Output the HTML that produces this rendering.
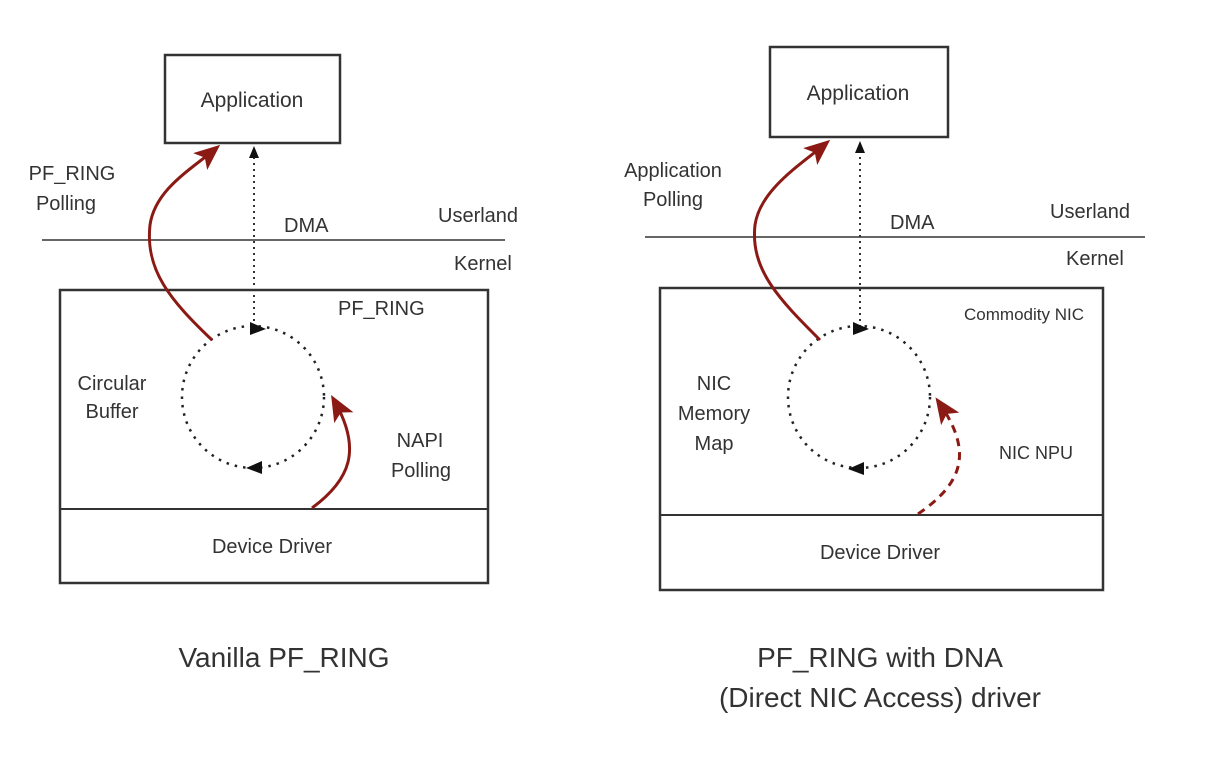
<!DOCTYPE html>
<html><head><style>
body{margin:0;background:#fff;}
svg text{font-family:"Liberation Sans",sans-serif;fill:#333;}
</style></head><body>
<svg width="1211" height="770" viewBox="0 0 1211 770" xmlns="http://www.w3.org/2000/svg">
<defs>
<marker id="bh" markerWidth="12" markerHeight="12" refX="6" refY="6" orient="auto" markerUnits="userSpaceOnUse" viewBox="0 0 12 12"><path d="M0,1 L12,6 L0,11 z" fill="#111"/></marker>
<marker id="rhl" markerWidth="26" markerHeight="26" refX="18" refY="13" orient="auto" markerUnits="userSpaceOnUse" viewBox="0 0 26 26"><path d="M0,2 L26,13 L0,24 L6,13 z" fill="#8b1a14"/></marker>
</defs>
<g stroke="#333" fill="none" stroke-width="2">
<rect x="165" y="55" width="175" height="88" fill="#fff" stroke-width="2.5"/>
<line x1="42" y1="240" x2="505" y2="240" stroke-width="1.5"/>
<rect x="60" y="290" width="428" height="293" stroke-width="2.5"/>
<line x1="60" y1="509" x2="488" y2="509" stroke-width="2"/>
<circle cx="253" cy="397" r="71" stroke-dasharray="2.5,6" stroke-width="2.5" stroke="#222"/>
<line x1="254" y1="327" x2="254" y2="152" stroke-dasharray="2,4" marker-end="url(#bh)"/>
<rect x="770" y="47" width="178" height="90" fill="#fff" stroke-width="2.5"/>
<line x1="645" y1="237" x2="1145" y2="237" stroke-width="1.5"/>
<rect x="660" y="288" width="443" height="302" stroke-width="2.5"/>
<line x1="660" y1="515" x2="1103" y2="515" stroke-width="2"/>
<circle cx="859" cy="397" r="71" stroke-dasharray="2.5,6" stroke-width="2.5" stroke="#222"/>
<line x1="860" y1="327" x2="860" y2="147" stroke-dasharray="2,4" marker-end="url(#bh)"/>
</g>
<path d="M250,322 L266,329 L250,335 z" fill="#111"/>
<path d="M262,461 L246,468 L262,474 z" fill="#111"/>
<path d="M853,322 L869,329 L853,335 z" fill="#111"/>
<path d="M864,462 L848,469 L864,475 z" fill="#111"/>
<g stroke="#8b1a14" fill="none" stroke-width="3">
<path d="M212,340 C170,300 145,270 150,225 C155,190 190,170 214,150" marker-end="url(#rhl)"/>
<path d="M312,508 C350,480 362,450 335,402" marker-end="url(#rhl)"/>
<path d="M820,340 C780,300 750,270 755,225 C760,190 800,165 824,145" marker-end="url(#rhl)"/>
<path d="M918,514 C960,485 975,455 940,404" stroke-dasharray="8,6" marker-end="url(#rhl)"/>
</g>
<g font-size="20">
<text x="252" y="107" text-anchor="middle" font-size="21">Application</text>
<text x="858" y="100" text-anchor="middle" font-size="21">Application</text>
<text x="72" y="180" text-anchor="middle">PF_RING</text>
<text x="66" y="210" text-anchor="middle">Polling</text>
<text x="284" y="232">DMA</text>
<text x="438" y="222">Userland</text>
<text x="454" y="270">Kernel</text>
<text x="338" y="315">PF_RING</text>
<text x="112" y="390" text-anchor="middle">Circular</text>
<text x="112" y="418" text-anchor="middle">Buffer</text>
<text x="420" y="447" text-anchor="middle">NAPI</text>
<text x="421" y="477" text-anchor="middle">Polling</text>
<text x="272" y="553" text-anchor="middle">Device Driver</text>
<text x="673" y="177" text-anchor="middle">Application</text>
<text x="673" y="206" text-anchor="middle">Polling</text>
<text x="890" y="229">DMA</text>
<text x="1050" y="218">Userland</text>
<text x="1066" y="265">Kernel</text>
<text x="1024" y="320" text-anchor="middle" font-size="17">Commodity NIC</text>
<text x="714" y="390" text-anchor="middle">NIC</text>
<text x="714" y="420" text-anchor="middle">Memory</text>
<text x="714" y="450" text-anchor="middle">Map</text>
<text x="1036" y="459" text-anchor="middle" font-size="18">NIC NPU</text>
<text x="880" y="559" text-anchor="middle">Device Driver</text>
<text x="284" y="667" text-anchor="middle" font-size="28">Vanilla PF_RING</text>
<text x="880" y="667" text-anchor="middle" font-size="28">PF_RING with DNA</text>
<text x="880" y="707" text-anchor="middle" font-size="28">(Direct NIC Access) driver</text>
</g>
</svg>
</body></html>
